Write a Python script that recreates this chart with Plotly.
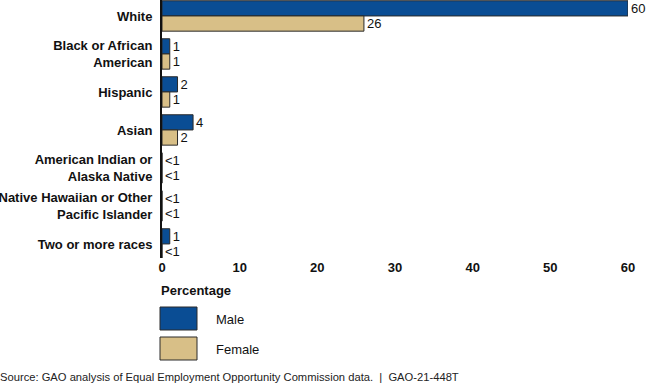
import plotly.graph_objects as go

categories = ["White", "Black or African<br>American", "Hispanic", "Asian",
              "American Indian or<br>Alaska Native",
              "Native Hawaiian or Other<br>Pacific Islander", "Two or more races"]
male_values = [60, 1, 2, 4, 0, 0, 1]
female_values = [26, 1, 1, 2, 0, 0, 0]
male_labels = ["60", "1", "2", "4", "<1", "<1", "1"]
female_labels = ["26", "1", "1", "2", "<1", "<1", "<1"]
x_ticks = [0, 10, 20, 30, 40, 50, 60]

MALE = "#0A4D94"
FEMALE = "#D8BF87"
W, H = 650, 385
ML, MR, MT, MB = 162, 22, 0, 127
PH = H - MT - MB
PW = W - ML - MR


def py(pix):
    return (H - MB - pix) / PH


def px(pix):
    return (pix - ML) / PW


fig = go.Figure()
fig.add_trace(go.Bar(
    y=categories, x=male_values, orientation="h", name="Male",
    marker=dict(color=MALE, line=dict(color="#2a2a2a", width=1)),
    text=male_labels, textposition="outside", cliponaxis=False,
    textfont=dict(family="Liberation Sans, Arial", size=13, color="#111"),
))
fig.add_trace(go.Bar(
    y=categories, x=female_values, orientation="h", name="Female",
    marker=dict(color=FEMALE, line=dict(color="#2a2a2a", width=1)),
    text=female_labels, textposition="outside", cliponaxis=False,
    textfont=dict(family="Liberation Sans, Arial", size=13, color="#111"),
))

fig.update_layout(
    width=W, height=H,
    margin=dict(l=ML, r=MR, t=MT, b=MB, autoexpand=False),
    barmode="group", bargap=0.2, bargroupgap=0.0,
    plot_bgcolor="white", paper_bgcolor="white",
    showlegend=False,
    font=dict(family="Liberation Sans, Arial", color="#111"),
    uniformtext=dict(minsize=11, mode="show"),
)
fig.update_xaxes(range=[0, 60], tickvals=x_ticks, showgrid=False, zeroline=False,
                 showline=False, ticks="", automargin=False,
                 tickfont=dict(family="Liberation Sans, Arial", size=13, color="#111", weight="bold"))
fig.update_yaxes(range=[6.37, -0.42], showgrid=False, showline=True, automargin=False,
                 linecolor="#111", linewidth=2, ticks="", ticklabelstandoff=5,
                 tickfont=dict(family="Liberation Sans, Arial", size=13, color="#111", weight="bold"))

# axis title
fig.add_annotation(xref="paper", yref="paper", x=px(159), y=py(290), text="<b>Percentage</b>",
                   showarrow=False, xanchor="left", yanchor="middle",
                   font=dict(family="Liberation Sans, Arial", size=13, color="#111"))

# legend boxes
for name, col, top in [("Male", MALE, 307), ("Female", FEMALE, 337)]:
    fig.add_shape(type="rect", xref="paper", yref="paper",
                  x0=px(160), x1=px(197), y0=py(top), y1=py(top + 23),
                  fillcolor=col, line=dict(color="#2a2a2a", width=1))
    fig.add_annotation(xref="paper", yref="paper", x=px(214), y=py(top + 12), text=name,
                       showarrow=False, xanchor="left", yanchor="middle",
                       font=dict(family="Liberation Sans, Arial", size=13, color="#111"))

fig.add_annotation(xref="paper", yref="paper", x=px(-2), y=py(377),
                   text="Source: GAO analysis of Equal Employment Opportunity Commission data.  |  GAO-21-448T",
                   showarrow=False, xanchor="left", yanchor="middle",
                   font=dict(family="Liberation Sans, Arial", size=11.2, color="#222"))

fig.write_html("out.html", config={"displayModeBar": False},
               post_script="document.body.style.margin='0';document.body.style.overflow='hidden';")
